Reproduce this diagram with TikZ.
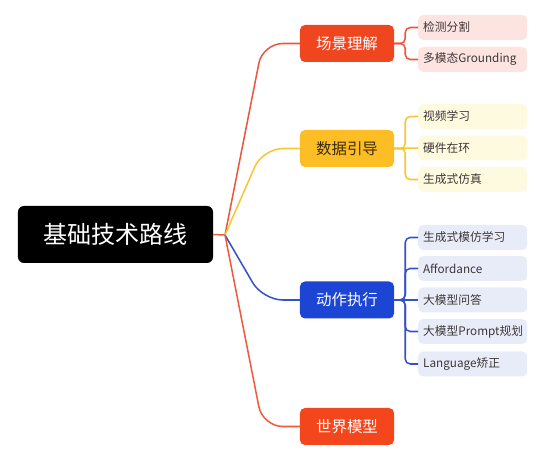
\documentclass[tikz,border=0pt]{standalone}
\usepackage{fontspec}
\setmainfont{Noto Sans CJK SC}
\usetikzlibrary{positioning}
\definecolor{scenered}{HTML}{F0461F}
\definecolor{datayellow}{HTML}{FDBD25}
\definecolor{actblue}{HTML}{1C45D4}
\definecolor{worldred}{HTML}{F4461C}
\definecolor{sceneline}{HTML}{E9573F}
\definecolor{dataline}{HTML}{F8C533}
\definecolor{actline}{HTML}{3552C8}
\definecolor{worldline}{HTML}{EE5B3D}
\definecolor{scenefill}{HTML}{FDE4E1}
\definecolor{datafill}{HTML}{FEFADF}
\definecolor{actfill}{HTML}{E8ECF8}
\definecolor{leaftext}{HTML}{3D3838}
\definecolor{datatext}{HTML}{3A2C05}
\tikzstyle{root} = [rectangle,rounded corners=0.18cm,minimum width=5.85cm,minimum height=1.71cm,text centered,fill=black,text=white,font=\fontsize{20.5}{24}\selectfont]
\tikzstyle{branch} = [rectangle,rounded corners=0.15cm,minimum width=2.82cm,minimum height=1.11cm,text centered,text=white,font=\fontsize{13.2}{16}\selectfont]
\tikzstyle{leaf} = [rectangle,rounded corners=0.15cm,minimum width=3.27cm,minimum height=0.75cm,inner xsep=0.15cm,text width=2.97cm,align=left,anchor=west,text=leaftext,font=\fontsize{10}{12}\selectfont]
\tikzstyle{link} = [line width=1.3pt,rounded corners=0.6cm]
\tikzstyle{bracket} = [line width=1.3pt,rounded corners=0.15cm]

\begin{document}
\begin{tikzpicture}[x=0.03cm,y=-0.03cm]
\useasboundingbox (0,0) rectangle (551,460);

\node (root) [root] at (115.5,234.5) {基础技术路线};
\coordinate (hub) at (225,235);

\node (scene) [branch,fill=scenered] at (347,43.5) {场景理解};
\node (data) [branch,fill=datayellow,text=datatext] at (347,148.5) {数据引导};
\node (act) [branch,fill=actblue] at (347,300) {动作执行};
\node (world) [branch,fill=worldred] at (347,426.5) {世界模型};

\node (scene1) [leaf,fill=scenefill] at (418,27.5) {检测分割};
\node (scene2) [leaf,fill=scenefill] at (418,59.5) {多模态Grounding};
\node (data1) [leaf,fill=datafill] at (418,116.5) {视频学习};
\node (data2) [leaf,fill=datafill] at (418,148) {硬件在环};
\node (data3) [leaf,fill=datafill] at (418,179.5) {生成式仿真};
\node (act1) [leaf,fill=actfill] at (418,237.5) {生成式模仿学习};
\node (act2) [leaf,fill=actfill] at (418,268.5) {Affordance};
\node (act3) [leaf,fill=actfill] at (418,300) {大模型问答};
\node (act4) [leaf,fill=actfill] at (418,331.5) {大模型Prompt规划};
\node (act5) [leaf,fill=actfill] at (418,364) {Language矫正};

% root to branches
\draw [link,sceneline] (root.east) -- (hub);
\draw [link,sceneline] (hub) -- ([xshift=-1.11cm]scene.west) -- (scene.west);
\draw [link,dataline] (hub) -- ([xshift=-1.11cm]data.west) -- (data.west);
\draw [link,actline] (hub) -- ([xshift=-1.11cm]act.west) -- (act.west);
\draw [link,worldline] (hub) -- ([xshift=-1.11cm]world.west) -- (world.west);

% branches to leaves
\draw [bracket,sceneline] (scene.east) -- ++(11,0) |- (scene1.west);
\draw [bracket,sceneline] (scene.east) -- ++(11,0) |- (scene2.west);
\draw [bracket,dataline] (data.east) -- ++(11,0) |- (data1.west);
\draw [bracket,dataline] (data.east) -- (data2.west);
\draw [bracket,dataline] (data.east) -- ++(11,0) |- (data3.west);
\draw [bracket,actline] (act.east) -- ++(11,0) |- (act1.west);
\draw [bracket,actline] (act.east) -- ++(11,0) |- (act2.west);
\draw [bracket,actline] (act.east) -- (act3.west);
\draw [bracket,actline] (act.east) -- ++(11,0) |- (act4.west);
\draw [bracket,actline] (act.east) -- ++(11,0) |- (act5.west);

\end{tikzpicture}
\end{document}
